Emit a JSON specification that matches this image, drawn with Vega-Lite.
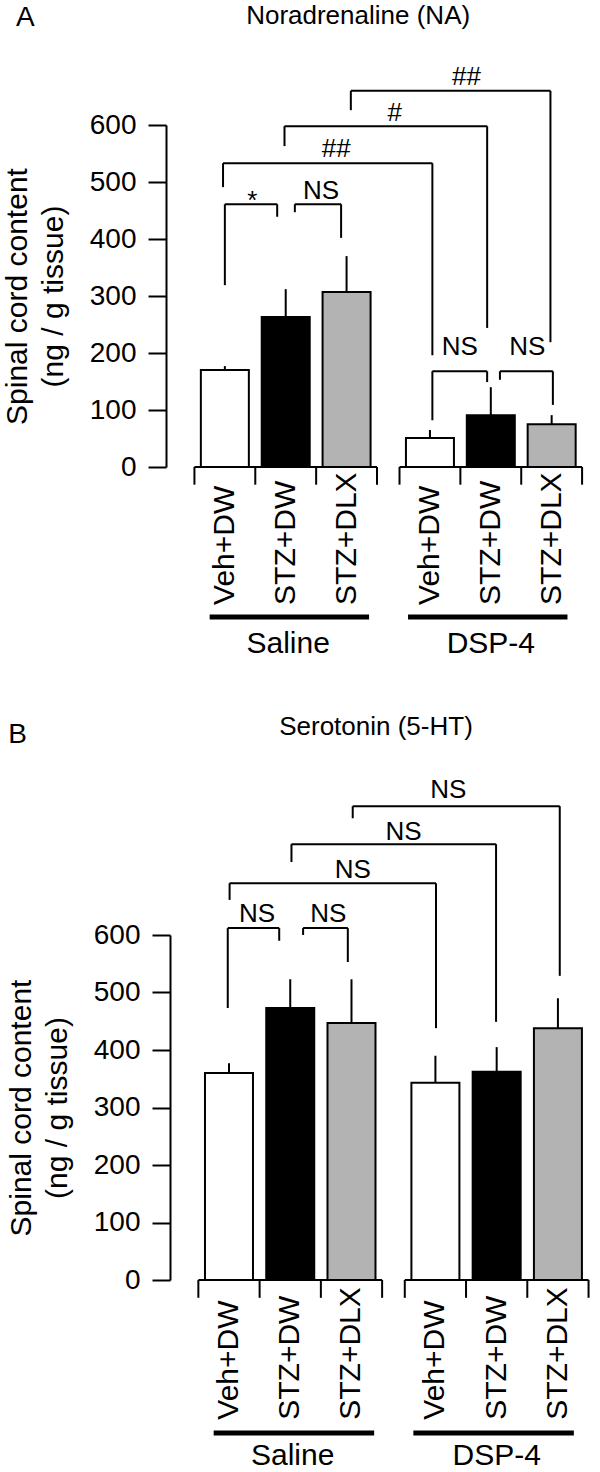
{
  "$schema": "https://vega.github.io/schema/vega-lite/v6.json",
  "background": "white",
  "padding": {"left": 2, "top": 3, "right": 0, "bottom": 0},
  "autosize": {"type": "pad"},
  "bounds": "flush",
  "spacing": 468,
  "config": {
    "view": {"stroke": null},
    "font": "Liberation Sans",
    "text": {"font": "Liberation Sans", "color": "black"},
    "axis": {"labelFont": "Liberation Sans", "titleFont": "Liberation Sans"}
  },
  "datasets": {
    "bars": [
      {"panel": "A", "group": "Saline", "treatment": "Veh+DW", "slot": 0.5, "mean": 170, "errTop": 177},
      {"panel": "A", "group": "Saline", "treatment": "STZ+DW", "slot": 1.5, "mean": 263, "errTop": 312},
      {"panel": "A", "group": "Saline", "treatment": "STZ+DLX", "slot": 2.5, "mean": 307, "errTop": 370},
      {"panel": "A", "group": "DSP-4", "treatment": "Veh+DW", "slot": 3.87, "mean": 51, "errTop": 65},
      {"panel": "A", "group": "DSP-4", "treatment": "STZ+DW", "slot": 4.87, "mean": 91, "errTop": 140},
      {"panel": "A", "group": "DSP-4", "treatment": "STZ+DLX", "slot": 5.87, "mean": 75, "errTop": 91},
      {"panel": "B", "group": "Saline", "treatment": "Veh+DW", "slot": 0.5, "mean": 360, "errTop": 377},
      {"panel": "B", "group": "Saline", "treatment": "STZ+DW", "slot": 1.5, "mean": 473, "errTop": 523},
      {"panel": "B", "group": "Saline", "treatment": "STZ+DLX", "slot": 2.5, "mean": 447, "errTop": 523},
      {"panel": "B", "group": "DSP-4", "treatment": "Veh+DW", "slot": 3.87, "mean": 343, "errTop": 390},
      {"panel": "B", "group": "DSP-4", "treatment": "STZ+DW", "slot": 4.87, "mean": 362, "errTop": 405},
      {"panel": "B", "group": "DSP-4", "treatment": "STZ+DLX", "slot": 5.87, "mean": 438, "errTop": 490}
    ],
    "ticks": [
      {"at": 0}, {"at": 1}, {"at": 2}, {"at": 3},
      {"at": 3.37}, {"at": 4.37}, {"at": 5.37}, {"at": 6.37}
    ],
    "groups": [
      {"group": "Saline", "start": 0, "end": 3, "lineStart": 0.25, "lineEnd": 2.87, "center": 1.54},
      {"group": "DSP-4", "start": 3.37, "end": 6.37, "lineStart": 3.51, "lineEnd": 6.13, "center": 4.87}
    ],
    "segments": [
      {"panel": "A", "x": 2.57, "x2": 5.85, "y": 660, "y2": 660},
      {"panel": "A", "x": 2.57, "x2": 2.57, "y": 660, "y2": 626},
      {"panel": "A", "x": 5.85, "x2": 5.85, "y": 660, "y2": 219},
      {"panel": "A", "x": 1.48, "x2": 4.81, "y": 598, "y2": 598},
      {"panel": "A", "x": 1.48, "x2": 1.48, "y": 598, "y2": 563},
      {"panel": "A", "x": 4.81, "x2": 4.81, "y": 598, "y2": 244},
      {"panel": "A", "x": 0.47, "x2": 3.91, "y": 533, "y2": 533},
      {"panel": "A", "x": 0.47, "x2": 0.47, "y": 533, "y2": 491},
      {"panel": "A", "x": 3.91, "x2": 3.91, "y": 533, "y2": 196},
      {"panel": "A", "x": 0.5, "x2": 1.36, "y": 461, "y2": 461},
      {"panel": "A", "x": 0.5, "x2": 0.5, "y": 461, "y2": 319},
      {"panel": "A", "x": 1.36, "x2": 1.36, "y": 461, "y2": 439},
      {"panel": "A", "x": 1.65, "x2": 2.41, "y": 461, "y2": 461},
      {"panel": "A", "x": 1.65, "x2": 1.65, "y": 461, "y2": 447},
      {"panel": "A", "x": 2.41, "x2": 2.41, "y": 461, "y2": 402},
      {"panel": "A", "x": 3.91, "x2": 4.81, "y": 168, "y2": 168},
      {"panel": "A", "x": 3.91, "x2": 3.91, "y": 168, "y2": 82},
      {"panel": "A", "x": 4.81, "x2": 4.81, "y": 168, "y2": 149},
      {"panel": "A", "x": 5.02, "x2": 5.89, "y": 168, "y2": 168},
      {"panel": "A", "x": 5.02, "x2": 5.02, "y": 168, "y2": 153},
      {"panel": "A", "x": 5.89, "x2": 5.89, "y": 168, "y2": 109},
      {"panel": "B", "x": 2.52, "x2": 5.9, "y": 824, "y2": 824},
      {"panel": "B", "x": 2.52, "x2": 2.52, "y": 824, "y2": 803},
      {"panel": "B", "x": 5.9, "x2": 5.9, "y": 824, "y2": 529},
      {"panel": "B", "x": 1.52, "x2": 4.86, "y": 758, "y2": 758},
      {"panel": "B", "x": 1.52, "x2": 1.52, "y": 758, "y2": 727},
      {"panel": "B", "x": 4.86, "x2": 4.86, "y": 758, "y2": 449},
      {"panel": "B", "x": 0.51, "x2": 3.88, "y": 690, "y2": 690},
      {"panel": "B", "x": 0.51, "x2": 0.51, "y": 690, "y2": 661},
      {"panel": "B", "x": 3.88, "x2": 3.88, "y": 690, "y2": 438},
      {"panel": "B", "x": 0.48, "x2": 1.32, "y": 612, "y2": 612},
      {"panel": "B", "x": 0.48, "x2": 0.48, "y": 612, "y2": 473},
      {"panel": "B", "x": 1.32, "x2": 1.32, "y": 612, "y2": 590},
      {"panel": "B", "x": 1.71, "x2": 2.44, "y": 612, "y2": 612},
      {"panel": "B", "x": 1.71, "x2": 1.71, "y": 612, "y2": 600},
      {"panel": "B", "x": 2.44, "x2": 2.44, "y": 612, "y2": 553}
    ],
    "sig": [
      {"panel": "A", "label": "##", "x": 4.47, "y": 670},
      {"panel": "A", "label": "#", "x": 3.29, "y": 607},
      {"panel": "A", "label": "##", "x": 2.33, "y": 544},
      {"panel": "A", "label": "*", "x": 0.95, "y": 452},
      {"panel": "A", "label": "NS", "x": 2.08, "y": 470},
      {"panel": "A", "label": "NS", "x": 4.36, "y": 196},
      {"panel": "A", "label": "NS", "x": 5.47, "y": 196},
      {"panel": "B", "label": "NS", "x": 4.08, "y": 838},
      {"panel": "B", "label": "NS", "x": 3.35, "y": 765},
      {"panel": "B", "label": "NS", "x": 2.52, "y": 699},
      {"panel": "B", "label": "NS", "x": 0.96, "y": 623},
      {"panel": "B", "label": "NS", "x": 2.12, "y": 623}
    ],
    "titles": [
      {"panel": "A", "letter": "A", "lx": -2.78, "ly": 773, "title": "Noradrenaline (NA)", "tx": 2.69, "ty": 777},
      {"panel": "B", "letter": "B", "lx": -2.95, "ly": 934, "title": "Serotonin (5-HT)", "tx": 2.9, "ty": 947}
    ]
  },
  "vconcat": [
    {
      "width": 422,
      "height": 342,
      "layer": [
        {
          "data": {"name": "bars"},
          "transform": [{"filter": "datum.panel === 'A'"}],
          "mark": {"type": "bar", "width": 48, "stroke": "black", "strokeWidth": 2},
          "encoding": {
            "x": {"field": "slot", "type": "quantitative", "scale": {"domain": [-0.385, 6.385], "nice": false, "zero": false}, "axis": null},
            "y": {"field": "mean", "type": "quantitative", "scale": {"domain": [0, 600], "nice": false, "zero": false},
              "axis": {"values": [0, 100, 200, 300, 400, 500, 600], "title": ["Spinal cord content", "(ng / g tissue)"], "grid": false, "orient": "left",
                "domainColor": "black", "domainWidth": 2, "tickColor": "black", "tickWidth": 2, "tickSize": 18,
                "labelFontSize": 28, "labelColor": "black", "labelPadding": 12, "labelFlush": false, "labelOverlap": false,
                "titleFontSize": 30, "titleFontWeight": "normal", "titleColor": "black", "titlePadding": 21, "titleLineHeight": 36}},
            "y2": {"datum": 0},
            "fill": {"field": "treatment", "type": "nominal", "scale": {"domain": ["Veh+DW", "STZ+DW", "STZ+DLX"], "range": ["#ffffff", "#000000", "#b3b3b3"]}, "legend": null}
          }
        },
        {
          "data": {"name": "groups"},
          "mark": {"type": "rule", "color": "black", "strokeWidth": 2},
          "encoding": {
            "x": {"field": "start", "type": "quantitative", "scale": {"domain": [-0.385, 6.385], "nice": false, "zero": false}, "axis": null},
            "x2": {"field": "end"},
            "y": {"datum": 0, "type": "quantitative", "scale": {"domain": [0, 600], "nice": false, "zero": false}}
          }
        },
        {
          "data": {"name": "ticks"},
          "mark": {"type": "rule", "color": "black", "strokeWidth": 2},
          "encoding": {
            "x": {"field": "at", "type": "quantitative", "scale": {"domain": [-0.385, 6.385], "nice": false, "zero": false}, "axis": null},
            "y": {"datum": 0, "type": "quantitative", "scale": {"domain": [0, 600], "nice": false, "zero": false}},
            "y2": {"datum": -31}
          }
        },
        {
          "data": {"name": "bars"},
          "transform": [{"filter": "datum.panel === 'A'"}],
          "mark": {"type": "rule", "color": "black", "strokeWidth": 2},
          "encoding": {
            "x": {"field": "slot", "type": "quantitative", "scale": {"domain": [-0.385, 6.385], "nice": false, "zero": false}, "axis": null},
            "y": {"field": "mean", "type": "quantitative", "scale": {"domain": [0, 600], "nice": false, "zero": false}},
            "y2": {"field": "errTop"}
          }
        },
        {
          "data": {"name": "bars"},
          "transform": [{"filter": "datum.panel === 'A'"}],
          "mark": {"type": "text", "angle": 270, "align": "left", "baseline": "middle", "fontSize": 30},
          "encoding": {
            "x": {"field": "slot", "type": "quantitative", "scale": {"domain": [-0.385, 6.385], "nice": false, "zero": false}, "axis": null},
            "y": {"datum": -242, "type": "quantitative", "scale": {"domain": [0, 600], "nice": false, "zero": false}},
            "text": {"field": "treatment"}
          }
        },
        {
          "data": {"name": "groups"},
          "mark": {"type": "rule", "color": "black", "strokeWidth": 5},
          "encoding": {
            "x": {"field": "lineStart", "type": "quantitative", "scale": {"domain": [-0.385, 6.385], "nice": false, "zero": false}, "axis": null},
            "x2": {"field": "lineEnd"},
            "y": {"datum": -263, "type": "quantitative", "scale": {"domain": [0, 600], "nice": false, "zero": false}}
          }
        },
        {
          "data": {"name": "groups"},
          "mark": {"type": "text", "align": "center", "baseline": "alphabetic", "fontSize": 30},
          "encoding": {
            "x": {"field": "center", "type": "quantitative", "scale": {"domain": [-0.385, 6.385], "nice": false, "zero": false}, "axis": null},
            "y": {"datum": -326, "type": "quantitative", "scale": {"domain": [0, 600], "nice": false, "zero": false}},
            "text": {"field": "group"}
          }
        },
        {
          "data": {"name": "segments"},
          "transform": [{"filter": "datum.panel === 'A'"}],
          "mark": {"type": "rule", "color": "black", "strokeWidth": 2},
          "encoding": {
            "x": {"field": "x", "type": "quantitative", "scale": {"domain": [-0.385, 6.385], "nice": false, "zero": false}, "axis": null},
            "x2": {"field": "x2"},
            "y": {"field": "y", "type": "quantitative", "scale": {"domain": [0, 600], "nice": false, "zero": false}},
            "y2": {"field": "y2"}
          }
        },
        {
          "data": {"name": "sig"},
          "transform": [{"filter": "datum.panel === 'A'"}],
          "mark": {"type": "text", "align": "center", "baseline": "alphabetic", "fontSize": 26},
          "encoding": {
            "x": {"field": "x", "type": "quantitative", "scale": {"domain": [-0.385, 6.385], "nice": false, "zero": false}, "axis": null},
            "y": {"field": "y", "type": "quantitative", "scale": {"domain": [0, 600], "nice": false, "zero": false}},
            "text": {"field": "label"}
          }
        },
        {
          "data": {"name": "titles"},
          "transform": [{"filter": "datum.panel === 'A'"}],
          "mark": {"type": "text", "align": "center", "baseline": "alphabetic", "fontSize": 28},
          "encoding": {
            "x": {"field": "lx", "type": "quantitative", "scale": {"domain": [-0.385, 6.385], "nice": false, "zero": false}, "axis": null},
            "y": {"field": "ly", "type": "quantitative", "scale": {"domain": [0, 600], "nice": false, "zero": false}},
            "text": {"field": "letter"}
          }
        },
        {
          "data": {"name": "titles"},
          "transform": [{"filter": "datum.panel === 'A'"}],
          "mark": {"type": "text", "align": "center", "baseline": "alphabetic", "fontSize": 26},
          "encoding": {
            "x": {"field": "tx", "type": "quantitative", "scale": {"domain": [-0.385, 6.385], "nice": false, "zero": false}, "axis": null},
            "y": {"field": "ty", "type": "quantitative", "scale": {"domain": [0, 600], "nice": false, "zero": false}},
            "text": {"field": "title"}
          }
        }
      ]
    },
    {
      "width": 430,
      "height": 345,
      "layer": [
        {
          "data": {"name": "bars"},
          "transform": [{"filter": "datum.panel === 'B'"}],
          "mark": {"type": "bar", "width": 48, "stroke": "black", "strokeWidth": 2},
          "encoding": {
            "x": {"field": "slot", "type": "quantitative", "scale": {"domain": [-0.4466, 6.41], "nice": false, "zero": false}, "axis": null},
            "y": {"field": "mean", "type": "quantitative", "scale": {"domain": [0, 600], "nice": false, "zero": false},
              "axis": {"values": [0, 100, 200, 300, 400, 500, 600], "title": ["Spinal cord content", "(ng / g tissue)"], "grid": false, "orient": "left", "offset": -4,
                "domainColor": "black", "domainWidth": 2, "tickColor": "black", "tickWidth": 2, "tickSize": 18,
                "labelFontSize": 28, "labelColor": "black", "labelPadding": 12, "labelFlush": false, "labelOverlap": false,
                "titleFontSize": 30, "titleFontWeight": "normal", "titleColor": "black", "titlePadding": 21, "titleLineHeight": 36}},
            "y2": {"datum": 0},
            "fill": {"field": "treatment", "type": "nominal", "scale": {"domain": ["Veh+DW", "STZ+DW", "STZ+DLX"], "range": ["#ffffff", "#000000", "#b3b3b3"]}, "legend": null}
          }
        },
        {
          "data": {"name": "groups"},
          "mark": {"type": "rule", "color": "black", "strokeWidth": 2},
          "encoding": {
            "x": {"field": "start", "type": "quantitative", "scale": {"domain": [-0.4466, 6.41], "nice": false, "zero": false}, "axis": null},
            "x2": {"field": "end"},
            "y": {"datum": 0, "type": "quantitative", "scale": {"domain": [0, 600], "nice": false, "zero": false}}
          }
        },
        {
          "data": {"name": "ticks"},
          "mark": {"type": "rule", "color": "black", "strokeWidth": 2},
          "encoding": {
            "x": {"field": "at", "type": "quantitative", "scale": {"domain": [-0.4466, 6.41], "nice": false, "zero": false}, "axis": null},
            "y": {"datum": 0, "type": "quantitative", "scale": {"domain": [0, 600], "nice": false, "zero": false}},
            "y2": {"datum": -31}
          }
        },
        {
          "data": {"name": "bars"},
          "transform": [{"filter": "datum.panel === 'B'"}],
          "mark": {"type": "rule", "color": "black", "strokeWidth": 2},
          "encoding": {
            "x": {"field": "slot", "type": "quantitative", "scale": {"domain": [-0.4466, 6.41], "nice": false, "zero": false}, "axis": null},
            "y": {"field": "mean", "type": "quantitative", "scale": {"domain": [0, 600], "nice": false, "zero": false}},
            "y2": {"field": "errTop"}
          }
        },
        {
          "data": {"name": "bars"},
          "transform": [{"filter": "datum.panel === 'B'"}],
          "mark": {"type": "text", "angle": 270, "align": "left", "baseline": "middle", "fontSize": 30},
          "encoding": {
            "x": {"field": "slot", "type": "quantitative", "scale": {"domain": [-0.4466, 6.41], "nice": false, "zero": false}, "axis": null},
            "y": {"datum": -243, "type": "quantitative", "scale": {"domain": [0, 600], "nice": false, "zero": false}},
            "text": {"field": "treatment"}
          }
        },
        {
          "data": {"name": "groups"},
          "mark": {"type": "rule", "color": "black", "strokeWidth": 5},
          "encoding": {
            "x": {"field": "lineStart", "type": "quantitative", "scale": {"domain": [-0.4466, 6.41], "nice": false, "zero": false}, "axis": null},
            "x2": {"field": "lineEnd"},
            "y": {"datum": -266, "type": "quantitative", "scale": {"domain": [0, 600], "nice": false, "zero": false}}
          }
        },
        {
          "data": {"name": "groups"},
          "mark": {"type": "text", "align": "center", "baseline": "alphabetic", "fontSize": 30},
          "encoding": {
            "x": {"field": "center", "type": "quantitative", "scale": {"domain": [-0.4466, 6.41], "nice": false, "zero": false}, "axis": null},
            "y": {"datum": -322, "type": "quantitative", "scale": {"domain": [0, 600], "nice": false, "zero": false}},
            "text": {"field": "group"}
          }
        },
        {
          "data": {"name": "segments"},
          "transform": [{"filter": "datum.panel === 'B'"}],
          "mark": {"type": "rule", "color": "black", "strokeWidth": 2},
          "encoding": {
            "x": {"field": "x", "type": "quantitative", "scale": {"domain": [-0.4466, 6.41], "nice": false, "zero": false}, "axis": null},
            "x2": {"field": "x2"},
            "y": {"field": "y", "type": "quantitative", "scale": {"domain": [0, 600], "nice": false, "zero": false}},
            "y2": {"field": "y2"}
          }
        },
        {
          "data": {"name": "sig"},
          "transform": [{"filter": "datum.panel === 'B'"}],
          "mark": {"type": "text", "align": "center", "baseline": "alphabetic", "fontSize": 26},
          "encoding": {
            "x": {"field": "x", "type": "quantitative", "scale": {"domain": [-0.4466, 6.41], "nice": false, "zero": false}, "axis": null},
            "y": {"field": "y", "type": "quantitative", "scale": {"domain": [0, 600], "nice": false, "zero": false}},
            "text": {"field": "label"}
          }
        },
        {
          "data": {"name": "titles"},
          "transform": [{"filter": "datum.panel === 'B'"}],
          "mark": {"type": "text", "align": "center", "baseline": "alphabetic", "fontSize": 28},
          "encoding": {
            "x": {"field": "lx", "type": "quantitative", "scale": {"domain": [-0.4466, 6.41], "nice": false, "zero": false}, "axis": null},
            "y": {"field": "ly", "type": "quantitative", "scale": {"domain": [0, 600], "nice": false, "zero": false}},
            "text": {"field": "letter"}
          }
        },
        {
          "data": {"name": "titles"},
          "transform": [{"filter": "datum.panel === 'B'"}],
          "mark": {"type": "text", "align": "center", "baseline": "alphabetic", "fontSize": 26},
          "encoding": {
            "x": {"field": "tx", "type": "quantitative", "scale": {"domain": [-0.4466, 6.41], "nice": false, "zero": false}, "axis": null},
            "y": {"field": "ty", "type": "quantitative", "scale": {"domain": [0, 600], "nice": false, "zero": false}},
            "text": {"field": "title"}
          }
        }
      ]
    }
  ]
}
